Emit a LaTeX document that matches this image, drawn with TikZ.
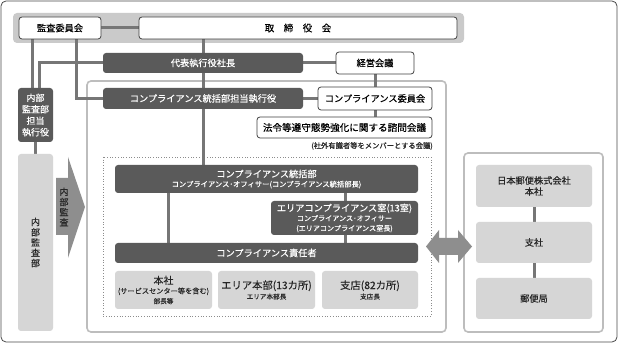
\documentclass[tikz,border=0pt]{standalone}
\usepackage{fontspec}
\setmainfont{Noto Sans CJK JP}[FakeBold=0.35]
\definecolor{boxdark}{HTML}{5A5A5A}
\definecolor{boxlight}{HTML}{D6D6D6}
\definecolor{bandc}{HTML}{CACACA}
\definecolor{connc}{HTML}{767676}
\definecolor{framec}{HTML}{BDBDBD}
\definecolor{arrowc}{HTML}{8E8E8E}
\definecolor{outerc}{HTML}{4A4A4A}
\newcommand\fsz[2]{\fontsize{#1pt}{#2pt}\selectfont}
\pgfdeclarelayer{bg}\pgfdeclarelayer{lines}
\pgfsetlayers{bg,lines,main}
\begin{document}
\begin{tikzpicture}[x=1pt,y=-1pt,
  base/.style={inner sep=0pt, outer sep=0pt, align=center, rounded corners=3pt},
  darkbox/.style={base, fill=boxdark, text=white, font=\fsz{9.2}{11}},
  whitebox/.style={base, fill=white, draw=black!75, line width=0.8pt, font=\fsz{9.2}{11}},
  lightbox/.style={base, fill=boxlight, text=black!85, font=\fsz{9.2}{11}},
  conn/.style={draw=connc, line width=3pt},
  frame/.style={draw=framec, line width=1.6pt, fill=white, rounded corners=4pt},
  arrowshape/.style={fill=arrowc}
]
\useasboundingbox (0,0) rectangle (619,344);

% ---------- nodes ----------
\node[whitebox, minimum width=82pt, minimum height=22pt] (kansa) at (60,28) {監査委員会};
\node[whitebox, minimum width=318pt, minimum height=22pt, font=\fsz{9.5}{11}] (torishimari) at (298,28) {取　締　役　会};
\node[darkbox, minimum width=200pt, minimum height=20pt] (daihyo) at (203,63) {代表執行役社長};
\node[whitebox, minimum width=78pt, minimum height=22pt] (keiei) at (375,63) {経営会議};
\node[darkbox, minimum width=200pt, minimum height=21pt] (tanto) at (203,98.5) {コンプライアンス統括部担当執行役};
\node[whitebox, minimum width=114pt, minimum height=23pt] (iinkai) at (375,98.5) {コンプライアンス委員会};
\node[whitebox, minimum width=175pt, minimum height=21pt, font=\fsz{9.6}{11}] (shimon) at (344.5,127.5) {法令等遵守態勢強化に関する諮問会議};
\node[anchor=east, inner sep=0pt, font=\fsz{7.3}{9}, text=black!85] (note) at (433,146) {(社外有識者等をメンバーとする会議)};

\node[darkbox, minimum width=35pt, minimum height=54pt, font=\fsz{9}{11.5}] (naibutanto) at (35.5,115) {内部\\監査部\\担当\\執行役};
\node[lightbox, minimum width=35pt, minimum height=177pt, font=\fsz{9}{10.3}] (naibubu) at (35.5,242.5) {内\\部\\監\\査\\部};

\node[darkbox, minimum width=303pt, minimum height=28pt] (tokatsu) at (266.5,179)
  {コンプライアンス統括部\\[-1.5pt]{\fsz{7.3}{8.5}コンプライアンス･オフィサー(コンプライアンス統括部長)}};
\node[darkbox, minimum width=147pt, minimum height=34pt] (area) at (344.5,218)
  {エリアコンプライアンス室(13室)\\[-1.5pt]{\fsz{7.1}{8.3}コンプライアンス･オフィサー}\\[-1pt]{\fsz{7.1}{8.3}(エリアコンプライアンス室長)}};
\node[darkbox, minimum width=303pt, minimum height=20pt] (sekinin) at (266.5,253) {コンプライアンス責任者};

\node[lightbox, minimum width=97pt, minimum height=38pt] (honsha) at (163.5,290)
  {{\fsz{10}{11}本社}\\[-1.5pt]{\fsz{7.2}{8.5}(サービスセンター等を含む)}\\[-1pt]{\fsz{6.6}{8}部長等}};
\node[lightbox, minimum width=97pt, minimum height=38pt] (areahonbu) at (266.5,290)
  {{\fsz{10.3}{12}エリア本部(13カ所)}\\[-1pt]{\fsz{6.6}{8}エリア本部長}};
\node[lightbox, minimum width=96pt, minimum height=38pt] (shiten) at (370,290)
  {{\fsz{10.3}{12}支店(82カ所)}\\[-1pt]{\fsz{6.6}{8}支店長}};

\node[lightbox, minimum width=116pt, minimum height=42pt] (jp) at (534,186) {日本郵便株式会社\\本社};
\node[lightbox, minimum width=116pt, minimum height=41pt] (shisha) at (534,242.5) {支社};
\node[lightbox, minimum width=116pt, minimum height=41pt] (yubin) at (534,298.5) {郵便局};

% ---------- frames (background) ----------
\begin{pgfonlayer}{bg}
  \draw[outerc, line width=0.8pt, fill=white, rounded corners=5pt] (1,1) rectangle (617,342);
  \fill[bandc, rounded corners=4pt] (13,13) rectangle (464,43);
  \draw[frame] (87,81) rectangle (446,332);
  \draw[frame] (464,153) rectangle (603,332);
  \draw[black!45, dotted, line width=0.7pt] (103,157) rectangle (431,316);
  % arrows
  \fill[arrowshape] (56,178) -- (68,178) -- (68,157) -- (85,207) -- (68,258) -- (68,235) -- (56,235) -- cycle;
  \fill[arrowshape] (426,246.5) -- (439,230) -- (439,238) -- (458,238) -- (458,230) -- (472,246.5)
     -- (458,263) -- (458,255) -- (439,255) -- (439,263) -- cycle;
\end{pgfonlayer}
\node[inner sep=0pt, align=center, font=\fsz{9}{10.2}, text=black!85] (naibukansa) at (64,207) {内\\部\\監\\査};

% ---------- connectors ----------
\coordinate (xa) at (203,0);
\coordinate (xb) at (375,0);
\coordinate (xc) at (32,0);
\coordinate (xd) at (76,0);
\coordinate (xe) at (39,0);
\coordinate (xf) at (168,0);
\coordinate (xg) at (345,0);
\coordinate (xh) at (534,0);
\begin{pgfonlayer}{lines}
  \draw[conn] (kansa.east) -- (torishimari.west);
  \draw[conn] (xa |- torishimari.south) -- (xa |- tokatsu.north);
  \draw[conn] (daihyo.east) -- (keiei.west);
  \draw[conn] (keiei.south) -- (iinkai.north);
  \draw[conn] (iinkai.south) -- (xb |- shimon.north);
  \draw[conn] (tanto.east) -- (iinkai.west);
  \draw[conn] (xc |- kansa.south) -- (xc |- naibutanto.north);
  \draw[conn] (xd |- kansa.south) |- (tanto.west);
  \draw[conn] (daihyo.west) -| (xe |- naibutanto.north);
  \draw[conn] (naibutanto.south) -- (naibubu.north);
  \draw[conn] (xf |- tokatsu.south) -- (xf |- sekinin.north);
  \draw[conn] (xg |- tokatsu.south) -- (xg |- area.north);
  \draw[conn] (xg |- area.south) -- (xg |- sekinin.north);
  \draw[conn] (jp.south) -- (shisha.north);
  \draw[conn] (shisha.south) -- (yubin.north);
\end{pgfonlayer}
\end{tikzpicture}
\end{document}
